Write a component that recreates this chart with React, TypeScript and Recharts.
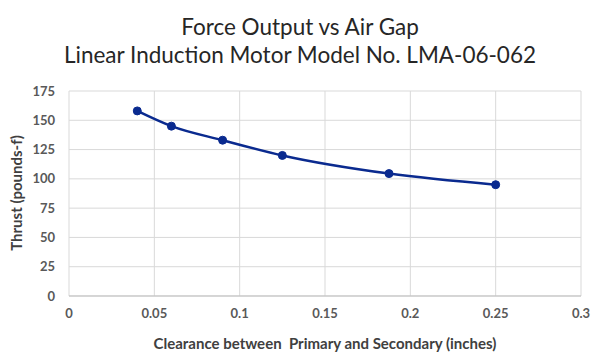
import React from 'react';
import { LineChart, Line, XAxis, YAxis, CartesianGrid } from 'recharts';

const titleLines = ['Force Output vs Air Gap', 'Linear Induction Motor Model No. LMA-06-062'];
const clearance = [0.04, 0.06, 0.09, 0.125, 0.1875, 0.25];
const thrust = [158, 145, 133, 120, 104.5, 95];
const xTicks = [0, 0.05, 0.1, 0.15, 0.2, 0.25, 0.3];
const yTicks = [0, 25, 50, 75, 100, 125, 150, 175];
const xLabel = 'Clearance between \u00a0Primary and Secondary (inches)';
const yLabel = 'Thrust (pounds-f)';

const data = clearance.map((c, i) => ({ x: c, y: thrust[i] }));

const FONT = 'Lato, "Open Sans", sans-serif';

const YLabel = () => (
  <text
    x={16}
    y={193}
    transform="rotate(-90 16 193)"
    textAnchor="middle"
    dominantBaseline="central"
    fontFamily={FONT}
    fontSize={15}
    fontWeight={700}
    fill="#404040"
  >
    {yLabel}
  </text>
);

export default function App() {
  return (
    <div style={{ position: 'fixed', left: 0, top: 0, width: 600, height: 361, background: '#fff' }}>
      <div
        style={{
          position: 'absolute',
          left: 0,
          top: 13,
          width: 600,
          textAlign: 'center',
          fontFamily: FONT,
          fontSize: 22.5,
          lineHeight: '28px',
          color: '#262626',
        }}
      >
        {titleLines.map((t) => (
          <div key={t}>{t}</div>
        ))}
      </div>
      <LineChart width={600} height={361} data={data} margin={{ top: 91, right: 19, bottom: 0, left: 9 }}>
        <CartesianGrid stroke="#d9d9d9" strokeWidth={1} />
        <XAxis
          dataKey="x"
          type="number"
          domain={[0, 0.3]}
          ticks={xTicks}
          tickLine={false}
          tickMargin={7}
          axisLine={{ stroke: '#bfbfbf' }}
          tick={{ fontFamily: FONT, fontSize: 13, fontWeight: 700, fill: '#595959' }}
          height={65}
          label={{
            value: xLabel,
            position: 'insideBottom',
            offset: 12,
            style: { fontFamily: FONT, fontSize: 15, fontWeight: 700, fill: '#404040' },
          }}
        />
        <YAxis
          type="number"
          domain={[0, 175]}
          ticks={yTicks}
          tickLine={false}
          tickMargin={8}
          axisLine={false}
          width={60}
          tick={{ fontFamily: FONT, fontSize: 13, fontWeight: 700, fill: '#595959' }}
          label={{ content: () => <YLabel /> }}
        />
        <Line
          dataKey="y"
          type="monotone"
          stroke="#0a2a8f"
          strokeWidth={2.5}
          dot={{ r: 4, fill: '#0a2a8f', stroke: '#0a2a8f', strokeWidth: 1 }}
          isAnimationActive={false}
        />
      </LineChart>
    </div>
  );
}
